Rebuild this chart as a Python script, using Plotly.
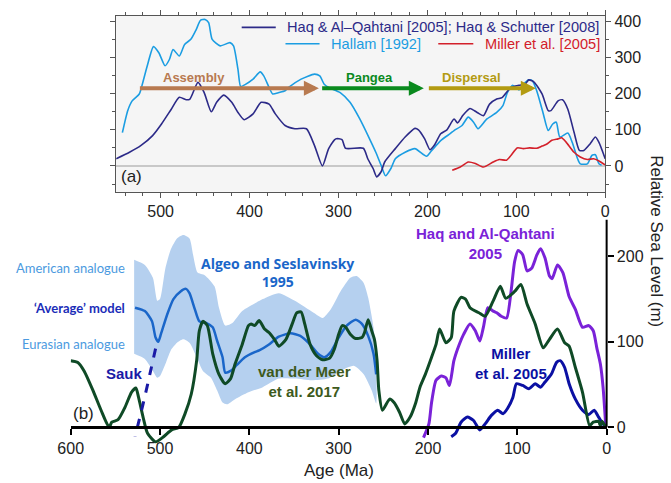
import plotly.graph_objects as go

W, H = 671, 483
def fx(px): return px / W
def fy(py): return 1 - py / H

# ---------------- Panel (a) data ----------------
haq_top_age = [550, 535, 522, 509, 499, 488, 479, 471, 467, 458, 451, 443, 437, 429, 420, 413, 406, 396, 387, 378,
               371, 360, 349, 336, 327, 318, 311, 303, 296, 292, 272, 267, 261, 257, 252, 248, 236, 225, 214, 210,
               203, 197, 192, 185, 178, 170, 166, 160, 152, 144, 137, 130, 122, 116, 106, 97, 90, 86, 80, 71,
               64, 61, 53, 48, 42, 35, 29, 24, 17, 11, 7, 0]
haq_top_sl = [20, 38, 57, 84, 116, 157, 190, 183, 185, 231, 203, 150, 176, 196, 176, 148, 128, 144, 176, 171,
              144, 112, 103, 103, 57, 0, 48, 75, 73, 49, 49, 20, -7, -30, -16, 11, 48, 80, 104, 100,
              75, 45, 58, 89, 100, 130, 119, 140, 159, 148, 139, 171, 185, 189, 217, 223, 226, 238, 232, 199,
              153, 153, 180, 183, 157, 93, 43, 43, 61, 80, 65, 20]

hallam_age = [543, 537, 532, 524, 521, 515, 508, 502, 495, 490, 486, 479, 473, 466, 460, 455, 450, 446, 442, 433,
              422, 418, 413, 410, 405, 396, 388, 384, 378, 374, 367, 360, 356, 342, 327, 321, 316, 311, 298, 287,
              276, 265, 258, 252, 247, 241, 236, 225, 214, 201, 196, 185, 174, 170, 161, 154, 148, 143, 133, 122,
              115, 110, 104, 97, 93, 86, 82, 77, 70, 64, 59, 55, 51, 42, 37, 31, 28, 20, 15, 11, 7, 4]
hallam_sl = [92, 153, 180, 199, 222, 277, 330, 313, 277, 295, 322, 304, 336, 350, 377, 403, 405, 396, 350, 332,
             341, 332, 267, 220, 225, 240, 260, 249, 217, 199, 203, 208, 217, 240, 254, 249, 226, 217, 203, 176,
             130, 75, 38, 2, -27, -7, 20, 38, 48, 27, 40, 70, 90, 98, 112, 135, 121, 103, 130, 148,
             167, 203, 223, 210, 223, 238, 236, 208, 148, 98, 116, 121, 80, 91, 65, 20, 6, 6, 29, 31, 6, 2]

miller_top_age = [172, 163, 154, 146, 137, 126, 119, 111, 106, 99, 92, 85, 77, 71, 66, 60, 53, 49, 44, 35,
                  28, 20, 13, 7, 0]
miller_top_sl = [-12, -3, 11, 7, -3, 11, 18, 16, 29, 50, 48, 50, 49, 55, 60, 71, 75, 78, 66, 38,
                 25, 18, 20, 14, 3]

# ---------------- Panel (b) data ----------------
vdm_age = [600, 592, 585, 575, 566, 557, 554, 547, 539, 532, 527, 524, 519, 514, 505, 496, 487, 479, 472, 465,
           459, 456, 452, 447, 441, 434, 427, 421, 416, 408, 401, 398, 394, 389, 383, 378, 372, 367, 359, 352,
           347, 342, 338, 332, 325, 318, 310, 305, 300, 296, 292, 287, 281, 274, 271, 267, 263, 260, 257, 255,
           251, 243, 238, 232, 226, 220, 214, 209, 203, 196, 191, 187, 180, 174, 171, 163, 158, 153, 143, 136,
           127, 119, 113, 103, 96, 89, 80, 71, 64, 55, 47, 42, 35, 27, 19, 15, 9, 7, 5, 1]
vdm_sl = [78, 76, 66, 43, 20, 0, 6, 9, 24, 41, 46, 35, 12, -7, -17, -11, -3, 0, 16, 39,
          78, 113, 124, 119, 86, 62, 51, 57, 74, 97, 119, 121, 119, 125, 115, 111, 103, 95, 103, 121,
          134, 135, 121, 97, 84, 79, 81, 91, 109, 119, 117, 109, 104, 105, 111, 126, 113, 103, 78, 43,
          20, 33, 29, 18, 4, 12, 28, 47, 62, 82, 97, 115, 99, 105, 136, 152, 150, 140, 134, 130,
          148, 165, 151, 159, 167, 144, 121, 93, 103, 115, 99, 95, 70, 41, 2, 6, 7, 2, 7, 0]

algeo_age = [528, 517, 509, 505, 502, 499, 492, 485, 477, 471, 467, 461, 456, 448, 441, 436, 430, 427, 421, 414,
             405, 394, 389, 378, 367, 354, 343, 332, 323, 316, 309, 300, 291, 281, 274, 267, 261, 258]
algeo_sl = [140, 136, 124, 105, 100, 109, 132, 150, 159, 162, 157, 138, 124, 122, 117, 101, 82, 64, 66, 73,
            82, 88, 90, 97, 106, 110, 107, 97, 86, 82, 88, 105, 119, 126, 121, 107, 86, 62]

american_age = [529, 517, 508, 503, 500, 494, 488, 481, 474, 467, 463, 458, 450, 439, 434, 427, 419, 408, 392, 385,
                367, 349, 328, 318, 309, 298, 287, 280, 272, 267, 261, 258]
american_sl = [196, 190, 175, 148, 150, 186, 208, 221, 225, 221, 202, 181, 178, 165, 140, 119, 122, 136, 146, 150,
               157, 148, 134, 128, 138, 159, 175, 177, 169, 152, 117, 74]

eurasian_age = [529, 517, 508, 503, 500, 494, 488, 481, 474, 467, 459, 452, 443, 436, 430, 425, 416, 401, 385, 367,
                349, 330, 312, 298, 283, 272, 263, 258]
eurasian_sl = [86, 80, 66, 58, 60, 74, 90, 99, 103, 99, 82, 66, 58, 43, 29, 27, 33, 41, 47, 57,
               57, 55, 57, 66, 72, 62, 43, 28]

haq_bot_age = [205, 199, 196, 191, 185, 180, 176, 171, 165, 160, 153, 147, 142, 138, 133, 127, 123, 118, 112, 107,
               103, 99, 94, 89, 84, 78, 74, 69, 64, 61, 55, 49, 42, 35, 27, 20, 15, 11, 7, 4, 1]
haq_bot_sl = [-12, 4, 29, 55, 60, 58, 49, 78, 97, 109, 121, 113, 101, 117, 140, 136, 134, 130, 128, 159,
              194, 207, 202, 183, 186, 202, 209, 198, 177, 174, 190, 181, 153, 138, 117, 119, 113, 93, 74, 47, 2]

miller_bot_age = [174, 169, 163, 156, 149, 142, 136, 129, 122, 116, 111, 105, 101, 94, 87, 80, 74, 69, 62, 56,
                  52, 47, 42, 35, 27, 20, 14, 9, 4, 0]
miller_bot_sl = [-11, -7, 6, 12, 8, -3, 4, 14, 20, 16, 22, 35, 51, 49, 45, 51, 47, 53, 62, 76,
                 78, 70, 51, 33, 20, 15, 20, 12, 4, 0]

sauk_age = [505, 511, 517, 523, 528]
sauk_sl = [92, 64, 36, 10, -11]

# ---------------- colours ----------------
C_HAQ_TOP = '#2c2a88'
C_HALLAM = '#1b9de2'
C_MILLER_TOP = '#d3202a'
C_VDM = '#0f4a26'
C_ALGEO = '#1a66c9'
C_BAND = '#b5d0ef'
C_HAQ_BOT = '#7a22d8'
C_MILLER_BOT = '#0b10a3'
C_SAUK = '#1a1aa6'

fig = go.Figure()

def line_trace(x, y, color, width, xa, ya, dash=None):
    return go.Scatter(x=x, y=y, xaxis=xa, yaxis=ya, mode='lines',
                      line=dict(color=color, width=width, shape='spline', smoothing=0.6, dash=dash),
                      hoverinfo='skip', showlegend=False)

# panel (a)
fig.add_trace(line_trace(hallam_age, hallam_sl, C_HALLAM, 1.6, 'x', 'y'))
fig.add_trace(line_trace(haq_top_age, haq_top_sl, C_HAQ_TOP, 1.6, 'x', 'y'))
fig.add_trace(line_trace(miller_top_age, miller_top_sl, C_MILLER_TOP, 1.6, 'x', 'y'))

# panel (b)
band_x = american_age + eurasian_age[::-1]
band_y = american_sl + eurasian_sl[::-1]
fig.add_trace(go.Scatter(x=band_x, y=band_y, xaxis='x2', yaxis='y2', mode='lines', fill='toself',
                         fillcolor=C_BAND, line=dict(width=0, color=C_BAND, shape='spline', smoothing=0.6),
                         hoverinfo='skip', showlegend=False))
fig.add_trace(line_trace(algeo_age, algeo_sl, C_ALGEO, 2.5, 'x2', 'y2'))
fig.add_trace(line_trace(haq_bot_age, haq_bot_sl, C_HAQ_BOT, 3, 'x2', 'y2'))
fig.add_trace(line_trace(miller_bot_age, miller_bot_sl, C_MILLER_BOT, 3, 'x2', 'y2'))
fig.add_trace(line_trace(vdm_age, vdm_sl, C_VDM, 3, 'x2', 'y2'))
fig.add_trace(line_trace(sauk_age, sauk_sl, C_SAUK, 3, 'x2', 'y2', dash='dash'))

TICKFONT = dict(family='Liberation Sans, Arial, sans-serif', size=16, color='#222')

fig.update_layout(
    width=W, height=H, autosize=False,
    margin=dict(l=0, r=0, t=0, b=0),
    paper_bgcolor='white', plot_bgcolor='rgba(0,0,0,0)',
    showlegend=False,
    xaxis=dict(domain=[fx(106), fx(608.5)], range=[550, 0], anchor='y',
               showline=True, linecolor='#555', linewidth=1, mirror='ticks',
               ticks='outside', ticklen=5, tickcolor='#555', dtick=100, tick0=0,
               minor=dict(dtick=20, ticklen=3, ticks='outside', tickcolor='#555'),
               tickfont=TICKFONT, showgrid=False, zeroline=False),
    yaxis=dict(domain=[fy(190), fy(13)], range=[-71.4, 414.8], anchor='x', side='right',
               showline=True, linecolor='#555', linewidth=1, mirror='ticks',
               ticks='outside', ticklen=5, tickcolor='#555', dtick=100, tick0=0,
               minor=dict(dtick=50, ticklen=3, ticks='outside', tickcolor='#555'),
               tickfont=TICKFONT, showgrid=False,
               zeroline=True, zerolinecolor='#c8c8c8', zerolinewidth=1.5),
    xaxis2=dict(domain=[fx(59.3), fx(610)], range=[600, 0], anchor='free', position=fy(427),
                showline=True, linecolor='black', linewidth=2.5,
                ticks='outside', ticklen=6, tickwidth=2, tickcolor='black', dtick=100, tick0=0,
                tickfont=TICKFONT, showgrid=False, zeroline=False),
    yaxis2=dict(domain=[fy(446), fy(216)], range=[-22.1, 245.3], anchor='x2', side='right',
                showline=False, ticks='outside', ticklen=6, tickwidth=2, tickcolor='black',
                tickvals=[0, 100, 200], tickfont=TICKFONT, showgrid=False, zeroline=False),
)

shapes = [
    dict(type='rect', xref='x domain', yref='y domain', x0=0, x1=1, y0=0, y1=1,
         fillcolor='#f5f5f5', line=dict(width=0), layer='below'),
    dict(type='line', xref='paper', yref='y2', x0=fx(610), x1=fx(610), y0=0, y1=243,
         line=dict(color='black', width=2)),
    # legend samples (panel a)
    dict(type='line', xref='paper', yref='paper', x0=fx(235), x1=fx(270), y0=fy(24.5), y1=fy(24.5),
         line=dict(color=C_HAQ_TOP, width=1.6)),
    dict(type='line', xref='paper', yref='paper', x0=fx(280), x1=fx(315), y0=fy(41), y1=fy(41),
         line=dict(color=C_HALLAM, width=1.6)),
    dict(type='line', xref='paper', yref='paper', x0=fx(437), x1=fx(473), y0=fy(41), y1=fy(41),
         line=dict(color=C_MILLER_TOP, width=1.6)),
]
fig.update_layout(shapes=shapes)

ann = []
def txt(text, px, py, color, size, family='Liberation Sans, Arial, sans-serif', bold=False,
        xanchor='center', angle=0):
    t = '<b>%s</b>' % text if bold else text
    ann.append(dict(text=t, xref='paper', yref='paper', x=fx(px), y=fy(py), showarrow=False,
                    xanchor=xanchor, yanchor='middle', textangle=angle,
                    font=dict(family=family, size=size, color=color)))

# legend texts (panel a)
txt('Haq &amp; Al–Qahtani [2005]; Haq &amp; Schutter [2008]', 280, 24.5, C_HAQ_TOP, 14.6, xanchor='left')
txt('Hallam [1992]', 325, 41, C_HALLAM, 14.6, xanchor='left')
txt('Miller et al. [2005]', 483, 41, C_MILLER_TOP, 14.6, xanchor='left')
txt('(a)', 109, 175, '#222', 17, xanchor='left')

# arrows (panel a)
arrows = [(525, 322, '#b87a50', 'Assembly', 462),
          (320, 204, '#0a8a1e', 'Pangea', 265),
          (200, 78, '#b39b12', 'Dispersal', 150)]
for start, tip, col, label, lx in arrows:
    ann.append(dict(x=tip, y=215, ax=start, ay=215, xref='x', yref='y', axref='x', ayref='y',
                    text='', showarrow=True, arrowhead=2, arrowsize=0.75, arrowwidth=4, arrowcolor=col))
    ann.append(dict(x=lx, y=245, xref='x', yref='y', text='<b>%s</b>' % label, showarrow=False,
                    font=dict(family='Liberation Sans, Arial, sans-serif', size=13, color=col)))

# panel (b) texts
LATO = 'Lato, Open Sans, sans-serif'
txt('American analogue', 117, 267, '#4b9ae0', 13, family=LATO, xanchor='right')
txt('‘Average’ model', 117, 307, '#1b2db8', 13, family=LATO, bold=True, xanchor='right')
txt('Eurasian analogue', 117, 343, '#4b9ae0', 13, family=LATO, xanchor='right')
txt('Algeo and Seslavinsky<br>1995', 272, 271, C_ALGEO, 14, family='Open Sans, sans-serif', bold=True)
txt('Haq and Al-Qahtani<br>2005', 486, 242, C_HAQ_BOT, 15, bold=True)
txt('van der Meer<br>et al. 2017', 300, 381, '#3d5a1c', 15, bold=True)
txt('Miller<br>et al. 2005', 512, 363, C_MILLER_BOT, 15, bold=True)
txt('Sauk', 115, 373, C_SAUK, 15, bold=True)
txt('(b)', 60, 413, '#222', 17, xanchor='left')
txt('Age (Ma)', 335, 470, '#222', 17)
txt('Relative Sea Level (m)', 661, 240, '#222', 17, angle=90)

fig.update_layout(annotations=ann)

fig.write_html('out.html', config={'displayModeBar': False},
               post_script="document.body.style.margin='0';document.body.style.overflow='hidden';")
